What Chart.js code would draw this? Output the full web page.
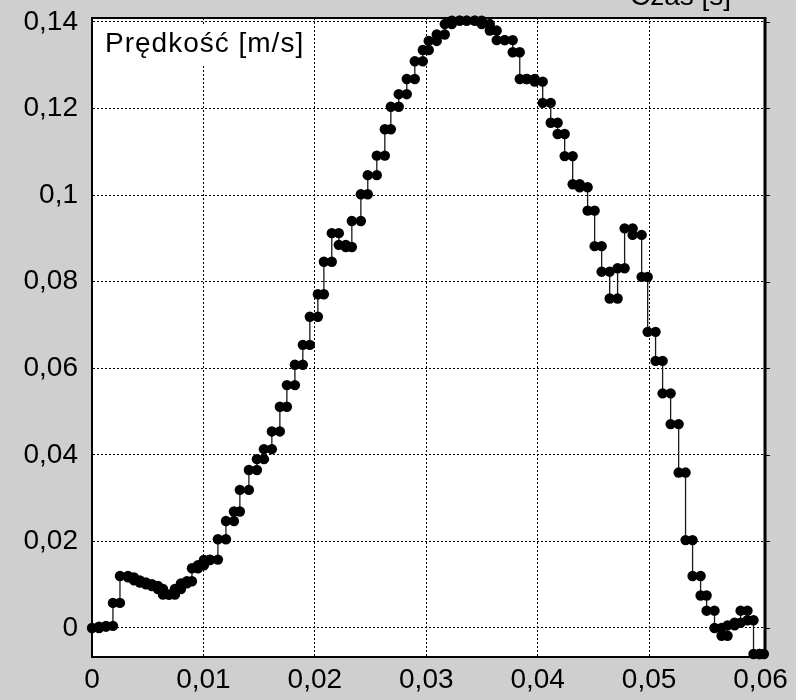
<!DOCTYPE html>
<html>
<head>
<meta charset="utf-8">
<script src="https://cdn.jsdelivr.net/npm/chart.js@4/dist/chart.umd.min.js"></script>
<style>
  html, body { margin: 0; padding: 0; background: #cfcfcf; }
  #chart { display: block; }
</style>
</head>
<body>
<canvas id="chart" width="796" height="700"></canvas>
<script>
// step boundaries [s] and the held speed value for each step [m/s]
const czas = [
  0, 0.00063, 0.00126, 0.00188, 0.00251, 0.00323, 0.00377, 0.00430, 0.00484, 0.00538,
  0.00592, 0.00637, 0.00691, 0.00744, 0.00798, 0.00852, 0.00897, 0.00951, 0.01004, 0.01058,
  0.01130, 0.01202, 0.01274, 0.01327, 0.01408, 0.01480, 0.01543, 0.01614, 0.01686, 0.01749,
  0.01821, 0.01892, 0.01955, 0.02027, 0.02081, 0.02152, 0.02215, 0.02278, 0.02332, 0.02413,
  0.02475, 0.02556, 0.02628, 0.02682, 0.02753, 0.02825, 0.02897, 0.02969, 0.03022, 0.03094,
  0.03166, 0.03229, 0.03300, 0.03363, 0.03435, 0.03498, 0.03570, 0.03632, 0.03704, 0.03776,
  0.03839, 0.03901, 0.03973, 0.04045, 0.04117, 0.04179, 0.04242, 0.04314, 0.04377, 0.04448,
  0.04511, 0.04574, 0.04646, 0.04717, 0.04780, 0.04852, 0.04933, 0.04987, 0.05058, 0.05121,
  0.05193, 0.05265, 0.05327, 0.05390, 0.05462, 0.05516, 0.05587, 0.05650, 0.05704, 0.05767,
  0.05821, 0.05883, 0.05937, 0.05991, 0.06030
];
const predkosc = [
  0.0000, 0.0003, 0.0005, 0.0058, 0.0120, 0.0117, 0.0110, 0.0105, 0.0101, 0.0097,
  0.0090, 0.0077, 0.0077, 0.0090, 0.0103, 0.0108, 0.0138, 0.0145, 0.0157, 0.0158,
  0.0205, 0.0247, 0.0269, 0.0319, 0.0365, 0.0390, 0.0413, 0.0454, 0.0511, 0.0561,
  0.0608, 0.0654, 0.0719, 0.0771, 0.0846, 0.0912, 0.0885, 0.0880, 0.0940, 0.1002,
  0.1046, 0.1091, 0.1152, 0.1204, 0.1233, 0.1268, 0.1309, 0.1335, 0.1356, 0.1371,
  0.1395, 0.1403, 0.1403, 0.1403, 0.1403, 0.1395, 0.1380, 0.1358, 0.1358, 0.1330,
  0.1268, 0.1268, 0.1262, 0.1213, 0.1167, 0.1141, 0.1090, 0.1025, 0.1018, 0.0964,
  0.0882, 0.0823, 0.0761, 0.0831, 0.0923, 0.0908, 0.0811, 0.0684, 0.0617, 0.0542,
  0.0471, 0.0359, 0.0203, 0.0120, 0.0075, 0.0040, 0.0000, -0.0018, 0.0006, 0.0012,
  0.0040, 0.0018, -0.0060, -0.0060
];
const xTicks = [0, 0.01, 0.02, 0.03, 0.04, 0.05, 0.06];
const yTicks = [0, 0.02, 0.04, 0.06, 0.08, 0.1, 0.12, 0.14];
const yTitle = 'Prędkość [m/s]';
const xTitle = 'Czas [s]';

const FONT = "'Liberation Sans', Arial, sans-serif";

// each step gets a dot at its start and at its end
const points = [];
for (let i = 0; i < predkosc.length; i++) {
  points.push({ x: czas[i], y: predkosc[i] });
  points.push({ x: czas[i + 1], y: predkosc[i] });
}

const comma = (v) => (v === 0 ? '0' : String(v).replace('.', ','));

const frame = {
  id: 'frame',
  beforeDraw(chart) {
    const { ctx, chartArea: a } = chart;
    ctx.save();
    ctx.fillStyle = '#cfcfcf';
    ctx.fillRect(0, 0, chart.width, chart.height);
    ctx.fillStyle = '#ffffff';
    ctx.fillRect(a.left, a.top, a.right - a.left, a.bottom - a.top);
    ctx.restore();
  },
  beforeDatasetsDraw(chart) {
    const { ctx, chartArea: a } = chart;
    ctx.save();
    // label box in the corner
    ctx.fillStyle = '#ffffff';
    ctx.fillRect(a.left + 2, a.top + 7, 216, 40);
    ctx.fillStyle = '#000';
    ctx.font = '28px ' + FONT;
    ctx.textBaseline = 'alphabetic';
    if ('letterSpacing' in ctx) ctx.letterSpacing = '1px';
    ctx.fillText(yTitle, a.left + 13, a.top + 34);
    if ('letterSpacing' in ctx) ctx.letterSpacing = '0px';
    // top and right frame
    ctx.strokeStyle = '#000';
    ctx.lineWidth = 2;
    ctx.beginPath();
    ctx.moveTo(a.left, a.top);
    ctx.lineTo(a.right, a.top);
    ctx.stroke();
    ctx.lineWidth = 3;
    ctx.beginPath();
    ctx.moveTo(a.right, a.top - 1);
    ctx.lineTo(a.right, a.bottom + 1);
    ctx.stroke();
    // little tick marks outside the right edge
    ctx.lineWidth = 1;
    const ys = chart.scales.y;
    yTicks.forEach((v) => {
      const py = Math.round(ys.getPixelForValue(v)) + 0.5;
      ctx.beginPath();
      ctx.moveTo(a.right, py);
      ctx.lineTo(a.right + 5, py);
      ctx.stroke();
    });
    ctx.restore();
  },
  afterDraw(chart) {
    const { ctx } = chart;
    ctx.save();
    ctx.fillStyle = '#000';
    ctx.font = '28px ' + FONT;
    ctx.textBaseline = 'alphabetic';
    ctx.fillText(xTitle, 630, 5);
    ctx.restore();
  },
};

new Chart(document.getElementById('chart').getContext('2d'), {
  type: 'line',
  data: {
    datasets: [
      {
        data: points,
        borderColor: '#1a1a1a',
        borderWidth: 1.3,
        pointRadius: 5.2,
        pointHoverRadius: 5.2,
        pointBackgroundColor: '#000',
        pointBorderColor: '#000',
        pointBorderWidth: 0,
        tension: 0,
        clip: false,
      },
    ],
  },
  options: {
    responsive: false,
    animation: false,
    events: [],
    layout: { padding: { left: 0, right: 31, top: 18, bottom: 0 } },
    plugins: { legend: { display: false }, tooltip: { enabled: false } },
    scales: {
      x: {
        type: 'linear',
        min: 0,
        max: 0.0604,
        afterBuildTicks: (s) => { s.ticks = xTicks.map((v) => ({ value: v })); },
        afterFit: (s) => { s.height = 43; s.paddingLeft = 0; s.paddingRight = 0; },
        ticks: {
          callback: comma,
          color: '#000',
          font: { family: FONT, size: 28 },
          padding: 6,
          maxRotation: 0,
          autoSkip: false,
        },
        grid: {
          color: (c) => (c.tick && c.tick.value >= 0.06 ? 'rgba(0,0,0,0)' : '#000'),
          lineWidth: 1,
          drawTicks: false,
        },
        border: { display: true, color: '#000', width: 2, dash: [2, 2] },
      },
      y: {
        type: 'linear',
        min: -0.0067,
        max: 0.1409,
        afterBuildTicks: (s) => { s.ticks = yTicks.map((v) => ({ value: v })); },
        afterFit: (s) => { s.width = 92; s.paddingTop = 0; s.paddingBottom = 0; },
        ticks: {
          callback: comma,
          color: '#000',
          font: { family: FONT, size: 28 },
          padding: 14,
          autoSkip: false,
        },
        grid: { color: '#000', lineWidth: 1, drawTicks: false },
        border: { display: true, color: '#000', width: 2, dash: [2, 2] },
      },
    },
  },
  plugins: [frame],
});
</script>
</body>
</html>
